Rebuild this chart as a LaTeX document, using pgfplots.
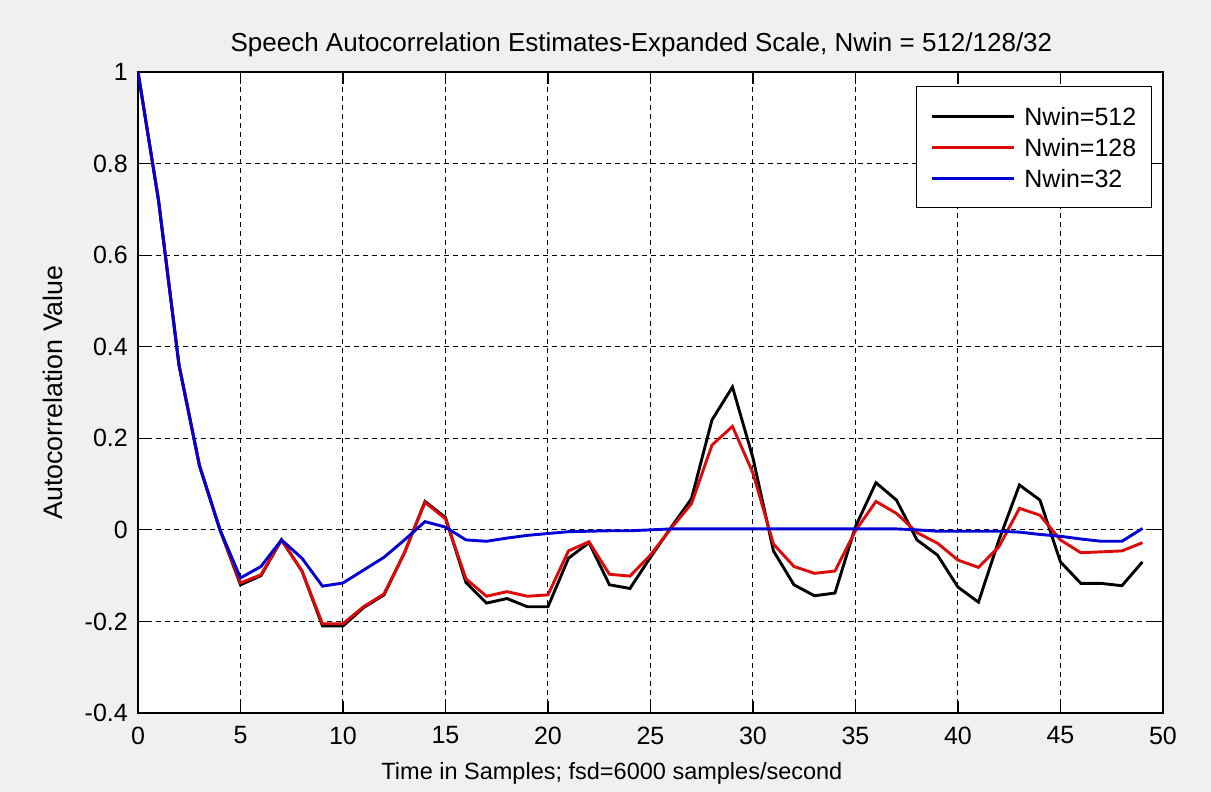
\documentclass[border=0pt]{standalone}
\usepackage{fontspec}
\setmainfont{Liberation Sans}
\usepackage{pgfplots}
\pgfplotsset{compat=1.18}
\definecolor{figbg}{RGB}{240,240,240}
\definecolor{mred}{RGB}{222,10,10}
\definecolor{mblue}{RGB}{0,0,215}

% autocorrelation estimates at lags 0..49
\pgfplotstableread{
lag  w512    w128    w32
0    1.000   1.000   1.000
1    0.720   0.720   0.720
2    0.360   0.360   0.360
3    0.140   0.140   0.140
4    0.000   0.000   0.000
5   -0.120  -0.116  -0.105
6   -0.100  -0.098  -0.080
7   -0.022  -0.022  -0.022
8   -0.090  -0.090  -0.062
9   -0.210  -0.205  -0.123
10  -0.210  -0.205  -0.116
11  -0.170  -0.168  -0.088
12  -0.142  -0.140  -0.060
13  -0.050  -0.050  -0.022
14   0.062   0.060   0.018
15   0.027   0.024   0.006
16  -0.115  -0.107  -0.022
17  -0.160  -0.145  -0.025
18  -0.150  -0.135  -0.018
19  -0.168  -0.145  -0.012
20  -0.168  -0.142  -0.008
21  -0.062  -0.046  -0.004
22  -0.028  -0.026  -0.003
23  -0.120  -0.097  -0.002
24  -0.128  -0.101  -0.002
25  -0.060  -0.055   0.000
26   0.005   0.003   0.002
27   0.068   0.057   0.002
28   0.240   0.185   0.002
29   0.312   0.226   0.002
30   0.157   0.124   0.002
31  -0.046  -0.031   0.002
32  -0.120  -0.080   0.002
33  -0.144  -0.095   0.002
34  -0.138  -0.090   0.002
35   0.007  -0.002   0.002
36   0.103   0.062   0.002
37   0.065   0.036   0.002
38  -0.022  -0.006   0.000
39  -0.055  -0.029  -0.003
40  -0.125  -0.066  -0.003
41  -0.158  -0.082  -0.003
42  -0.022  -0.037  -0.003
43   0.098   0.047  -0.005
44   0.065   0.032  -0.010
45  -0.070  -0.022  -0.014
46  -0.117  -0.050  -0.020
47  -0.117  -0.048  -0.025
48  -0.122  -0.046  -0.025
49  -0.070  -0.028   0.003
}\acdata

\begin{document}
\begin{tikzpicture}[x=1pt,y=1pt]
% figure background
\fill[figbg] (-138,-79) rectangle (1073,713);
\begin{axis}[
  at={(0,0)}, anchor=south west,
  scale only axis, width=1025pt, height=641pt,
  xmin=0, xmax=50, ymin=-0.4, ymax=1,
  xtick={0,5,...,50},
  ytick={-0.4,-0.2,0,0.2,0.4,0.6,0.8,1},
  tick align=inside, major tick length=12pt,
  every tick/.style={black, line width=1.2pt},
  axis background/.style={fill=white},
  axis line style={line width=1.5pt},
  grid=major,
  grid style={black, line width=1pt, dash pattern=on 5pt off 4pt},
  /pgf/number format/assume math mode=true,
  ticklabel style={font=\fontsize{25}{30}\selectfont},
  xticklabel style={anchor=north, inner sep=0pt, yshift=-13.5pt},
  yticklabel style={anchor=east, inner sep=0pt, xshift=-10pt},
  title={Speech Autocorrelation Estimates-Expanded Scale, Nwin = 512/128/32},
  xlabel={Time in Samples; fsd=6000 samples/second},
  ylabel={Autocorrelation Value},
  every axis title/.style={at={([yshift=20pt]axis description cs:0.4912,1)}, anchor=base, inner sep=0pt, font=\fontsize{26}{30}\selectfont},
  every axis x label/.style={at={([yshift=-67pt]axis description cs:0.4624,0)}, anchor=base, inner sep=0pt, font=\fontsize{23.5}{28}\selectfont},
  every axis y label/.style={at={([xshift=-75pt]axis description cs:0,0.5)}, rotate=90, anchor=base, inner sep=0pt, font=\fontsize{26.8}{30}\selectfont},
  legend style={at={([xshift=-11pt,yshift=-14pt]axis description cs:1,1)}, anchor=north east,
    draw=black, line width=1.3pt, fill=white, inner xsep=14pt, inner ysep=16pt,
    font=\fontsize{25}{30}\selectfont, row sep=4pt,
    nodes={inner sep=1pt, text height=22pt, text depth=3pt},
    /tikz/every odd column/.append style={column sep=8pt}},
  legend cell align=left,
  legend image code/.code={\draw[#1, line width=3pt] (0pt,0pt) -- (82pt,0pt);},
]
\addplot[black, line width=2.9pt] table[x=lag, y=w512] {\acdata};
\addplot[mred, line width=2.9pt] table[x=lag, y=w128] {\acdata};
\addplot[mblue, line width=2.9pt] table[x=lag, y=w32] {\acdata};
\legend{Nwin=512, Nwin=128, Nwin=32}
\end{axis}
\end{tikzpicture}
\end{document}
